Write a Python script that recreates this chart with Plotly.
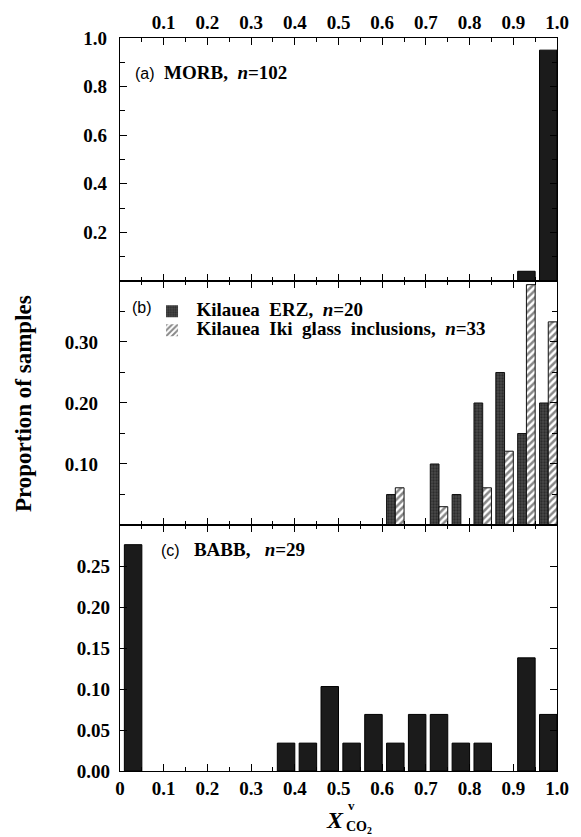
import plotly.graph_objects as go

# ---------------- data ----------------
bin_centers = [0.025, 0.075, 0.125, 0.175, 0.225, 0.275, 0.325, 0.375, 0.425, 0.475,
               0.525, 0.575, 0.625, 0.675, 0.725, 0.775, 0.825, 0.875, 0.925, 0.975]

morb = [0, 0, 0, 0, 0, 0, 0, 0, 0, 0,
        0, 0, 0, 0, 0, 0, 0, 0, 0.04, 0.95]

erz = [0, 0, 0, 0, 0, 0, 0, 0, 0, 0,
       0, 0, 0.05, 0, 0.10, 0.05, 0.20, 0.25, 0.15, 0.20]

iki = [0, 0, 0, 0, 0, 0, 0, 0, 0, 0,
       0, 0, 0.061, 0, 0.030, 0, 0.061, 0.121, 0.394, 0.333]

babb = [0.276, 0, 0, 0, 0, 0, 0, 0.034, 0.034, 0.103,
        0.034, 0.069, 0.034, 0.069, 0.069, 0.034, 0.034, 0, 0.138, 0.069]

x_tick_vals = [0, 0.1, 0.2, 0.3, 0.4, 0.5, 0.6, 0.7, 0.8, 0.9, 1.0]
x_tick_text = ["0", "0.1", "0.2", "0.3", "0.4", "0.5", "0.6", "0.7", "0.8", "0.9", "1.0"]
x_top_vals = [0.1, 0.2, 0.3, 0.4, 0.5, 0.6, 0.7, 0.8, 0.9, 1.0]
x_top_text = ["0.1", "0.2", "0.3", "0.4", "0.5", "0.6", "0.7", "0.8", "0.9", "1.0"]
x_minor_vals = [0.05, 0.15, 0.25, 0.35, 0.45, 0.55, 0.65, 0.75, 0.85, 0.95]

ya_vals = [0.2, 0.4, 0.6, 0.8, 1.0]
ya_text = ["0.2", "0.4", "0.6", "0.8", "1.0"]
ya_minor = [0.1, 0.3, 0.5, 0.7, 0.9]
yb_vals = [0.1, 0.2, 0.3]
yb_text = ["0.10", "0.20", "0.30"]
yb_minor = [0.05, 0.15, 0.25, 0.35]
yc_vals = [0.0, 0.05, 0.10, 0.15, 0.20, 0.25]
yc_text = ["0.00", "0.05", "0.10", "0.15", "0.20", "0.25"]

# ---------------- style ----------------
SERIF = "Liberation Serif"
SANS = "Liberation Sans"
BAR_DARK = "#1b1b1b"
NB = "\u00a0"


def outline(values, w):
    # no outline on empty bins, so that nothing is drawn there
    return [w if v > 0 else 0 for v in values]


fig = go.Figure()

fig.add_trace(go.Bar(x=bin_centers, y=morb, xaxis="x", yaxis="y", name="MORB",
                     width=0.04, offset=-0.015, showlegend=False,
                     marker=dict(color=BAR_DARK, line=dict(color="black", width=outline(morb, 1)))))

fig.add_trace(go.Bar(x=bin_centers, y=erz, xaxis="x2", yaxis="y2",
                     name=f"<span style='font-size:19px'>Kilauea{NB}{NB}ERZ,{NB}{NB}<i>n</i>=20</span>",
                     width=0.02, offset=-0.015, showlegend=True,
                     marker=dict(color="#3a3a3a", line=dict(color="#111", width=outline(erz, 1)),
                                 pattern=dict(shape=".", fgcolor="#0d0d0d", bgcolor="#4a4a4a",
                                              size=3, solidity=0.45))))

fig.add_trace(go.Bar(x=bin_centers, y=iki, xaxis="x2", yaxis="y2",
                     name=f"<span style='font-size:19px'>Kilauea{NB}{NB}Iki{NB}{NB}glass{NB}{NB}inclusions,{NB}{NB}<i>n</i>=33</span>",
                     width=0.02, offset=0.005, showlegend=True,
                     marker=dict(color="white", line=dict(color="#111", width=outline(iki, 1)),
                                 pattern=dict(shape="/", fgcolor="#111", bgcolor="white",
                                              size=5, solidity=0.5))))

fig.add_trace(go.Bar(x=bin_centers, y=babb, xaxis="x3", yaxis="y3", name="BABB",
                     width=0.04, offset=-0.015, showlegend=False,
                     marker=dict(color=BAR_DARK, line=dict(color="black", width=outline(babb, 1)))))

tickfont = dict(family=SERIF, size=19, color="black", weight="bold")


def xax(side, show_labels, vals, text, anchor, standoff=0):
    return dict(domain=[0, 1], anchor=anchor, range=[0, 1], side=side,
                showticklabels=show_labels, tickmode="array", tickvals=vals, ticktext=text,
                ticks="inside", ticklen=7, tickwidth=1.2, tickcolor="black",
                minor=dict(tickmode="array", tickvals=x_minor_vals, ticks="inside",
                           ticklen=4, tickwidth=1, tickcolor="black"),
                showline=True, linecolor="black", linewidth=1.3, mirror="ticks",
                showgrid=False, zeroline=False, tickfont=tickfont, fixedrange=True,
                ticklabelstandoff=standoff)


def yax(domain, rng, vals, text, anchor, minor_vals, standoff):
    d = dict(domain=domain, anchor=anchor, range=rng, tickmode="array",
             tickvals=vals, ticktext=text, ticks="inside", ticklen=7, tickwidth=1.2,
             tickcolor="black", showline=True, linecolor="black", linewidth=1.3,
             mirror="ticks", showgrid=False, zeroline=False, tickfont=tickfont,
             ticklabelstandoff=standoff)
    if minor_vals:
        d["minor"] = dict(tickmode="array", tickvals=minor_vals, ticks="inside",
                          ticklen=5, tickwidth=1, tickcolor="black")
    return d


fig.update_layout(
    width=581, height=837,
    margin=dict(l=120, r=18, t=35, b=66),
    paper_bgcolor="white", plot_bgcolor="white",
    barmode="overlay",
    font=dict(family=SERIF, color="black"),
    xaxis=xax("top", True, x_top_vals, x_top_text, "y"),
    xaxis2=xax("bottom", False, x_tick_vals, x_tick_text, "y2"),
    xaxis3=xax("bottom", True, x_tick_vals, x_tick_text, "y3", 0),
    yaxis=yax([0.6685, 1.0], [0, 1.0], ya_vals, ya_text, "x", ya_minor, 8),
    yaxis2=yax([0.3356, 0.6685], [0, 0.40], yb_vals, yb_text, "x2", yb_minor, 17),
    yaxis3=yax([0.0, 0.3356], [0, 0.30], yc_vals, yc_text, "x3", None, 5),
    legend=dict(x=0.063, y=0.647, xanchor="left", yanchor="top",
                bgcolor="rgba(0,0,0,0)", borderwidth=0, itemwidth=39,
                font=dict(family=SERIF, size=12, color="black", weight="bold"),
                tracegroupgap=0, itemclick=False, itemdoubleclick=False),
)

ann_font = dict(family=SERIF, size=19, color="black", weight="bold")
annotations = [
    dict(x=0.029, y=0.9524, xref="paper", yref="paper", xanchor="left", yanchor="middle",
         showarrow=False, font=ann_font,
         text=f"<span style='font-family:{SANS};font-weight:normal;font-size:16px'>(a)</span>{NB}{NB}MORB,{NB}{NB}<i>n</i>=102"),
    dict(x=0.022, y=0.633, xref="paper", yref="paper", xanchor="left", yanchor="middle",
         showarrow=False, font=dict(family=SANS, size=16, color="black"), text="(b)"),
    dict(x=0.0903, y=0.3016, xref="paper", yref="paper", xanchor="left", yanchor="middle",
         showarrow=False, font=ann_font,
         text=f"<span style='font-family:{SANS};font-weight:normal;font-size:16px'>(c)</span>{NB}{NB}{NB}BABB,{NB}{NB}{NB}<i>n</i>=29"),
    dict(x=-0.2212, y=0.501, xref="paper", yref="paper", xanchor="center", yanchor="middle",
         showarrow=False, textangle=-90, font=dict(family=SERIF, size=23, color="black", weight="bold"),
         text="Proportion of samples"),
    dict(x=0.492, y=-0.0666, xref="paper", yref="paper", xanchor="center", yanchor="middle",
         showarrow=False, font=dict(family=SERIF, size=24, color="black", weight="bold"),
         text="<i>X</i>"),
    dict(x=0.530, y=-0.0476, xref="paper", yref="paper", xanchor="center", yanchor="middle",
         showarrow=False, font=dict(family=SERIF, size=13, color="black", weight="bold"),
         text="v"),
    dict(x=0.547, y=-0.0775, xref="paper", yref="paper", xanchor="center", yanchor="middle",
         showarrow=False, font=dict(family=SERIF, size=14, color="black", weight="bold"),
         text="CO<sub>2</sub>"),
]
fig.update_layout(annotations=annotations)

fig.write_html("out.html")
